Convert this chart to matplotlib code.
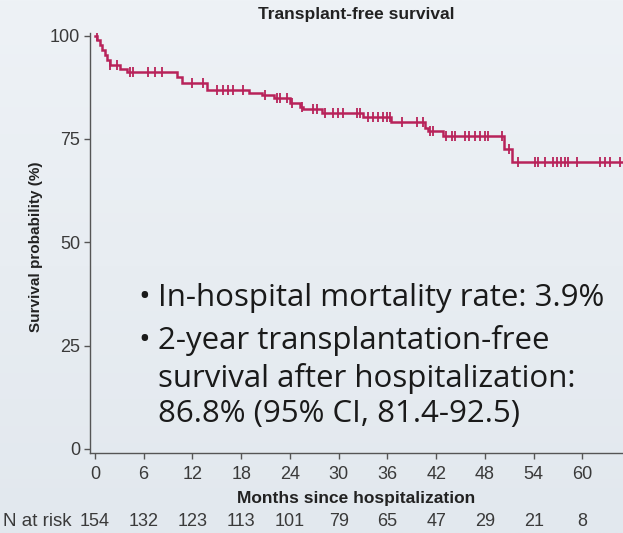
import numpy as np
import matplotlib
matplotlib.use("Agg")
import matplotlib.pyplot as plt
from matplotlib.colors import LinearSegmentedColormap

# Kaplan-Meier steps: time (months) and survival (%) after each event
event_months = [0, 0.3, 0.6, 0.9, 1.2, 1.5, 1.8, 3.1, 3.9, 10.1, 10.7, 13.8,
                19.0, 20.6, 22.1, 24.0, 25.2, 25.6, 28.0, 33.0, 36.5, 40.6,
                41.0, 42.8, 50.4, 51.3]
survival_pct = [100, 98.8, 97.6, 96.4, 95.2, 94.0, 92.8, 92.0, 91.1, 89.9,
                88.6, 86.9, 86.0, 85.6, 84.8, 83.7, 82.7, 82.2, 81.3, 80.3,
                79.2, 77.6, 76.8, 75.8, 72.6, 69.4]
end_month = 65.0

# censoring marks (months)
censor_months = [0.2, 1.9, 2.7, 4.3, 4.7, 6.5, 7.4, 8.2, 12.0, 13.3, 15.0,
                 15.8, 16.4, 17.0, 18.2, 20.9, 22.4, 22.8, 23.6, 24.2, 25.5,
                 26.8, 27.3, 28.3, 29.3, 29.9, 30.5, 32.2, 32.6, 33.6, 34.2,
                 34.8, 35.4, 36.0, 36.3, 37.8, 39.7, 40.4, 41.2, 41.6, 43.2,
                 43.9, 44.3, 45.5, 46.1, 46.8, 47.4, 48.0, 48.4, 50.1, 51.0,
                 52.1, 54.2, 54.5, 55.4, 56.4, 56.9, 57.4, 57.8, 58.2, 59.3,
                 62.2, 62.8, 63.4, 64.6]

x_ticks = [0, 6, 12, 18, 24, 30, 36, 42, 48, 54, 60]
n_at_risk = [154, 132, 123, 113, 101, 79, 65, 47, 29, 21, 8]
y_ticks = [0, 25, 50, 75, 100]

bullet_1 = ["In-hospital mortality rate: 3.9%"]
bullet_2 = ["2-year transplantation-free",
            "survival after hospitalization:",
            "86.8% (95% CI, 81.4-92.5)"]

red = "#b8235a"
grey = "#3a3a3a"
H = 533.0

fig = plt.figure(figsize=(6.23, 5.33), dpi=100)

# soft background gradient
bg = fig.add_axes([0, 0, 1, 1], zorder=-10)
cmap = LinearSegmentedColormap.from_list("bg", ["#eef2f6", "#e2e8ee"])
bg.imshow(np.linspace(0, 1, 256).reshape(-1, 1), aspect="auto", cmap=cmap,
          extent=[0, 1, 0, 1])
bg.axis("off")

ax = fig.add_axes([0.1445, 0.150, 0.8555, 0.788])
ax.patch.set_alpha(0)

xs = list(event_months) + [end_month]
ys = list(survival_pct) + [survival_pct[-1]]
ax.step(xs, ys, where="post", color=red, lw=1.8, solid_joinstyle="miter")

idx = np.searchsorted(event_months, censor_months, side="right") - 1
cy = np.array(survival_pct)[idx]
ax.plot(censor_months, cy, ls="none", marker="|", ms=7.5, mew=1.3, color=red)

ax.set_xlim(-0.6, end_month)
ax.set_ylim(-1, 100.6)
ax.set_xticks(x_ticks)
ax.set_yticks(y_ticks)
for s in ["top", "right"]:
    ax.spines[s].set_visible(False)
for s in ["left", "bottom"]:
    ax.spines[s].set_color("#555555")
    ax.spines[s].set_linewidth(1.0)
ax.tick_params(axis="both", colors="#555555", labelcolor=grey,
               labelsize=13, length=4, width=1.0)
ax.tick_params(axis="x", pad=5)
ax.tick_params(axis="y", pad=3)
for lab in ax.get_xticklabels() + ax.get_yticklabels():
    lab.set_family("Liberation Sans")

ax.set_xlabel("Months since hospitalization", fontsize=12.5, fontweight="bold",
              family="Liberation Sans", color="#222222", labelpad=6)
ax.set_ylabel("Survival probability (%)", fontsize=11, fontweight="bold",
              family="Liberation Sans", color="#222222")
ax.yaxis.set_label_coords(-0.088, 0.49)
ax.set_title("Transplant-free survival", fontsize=12.5, fontweight="bold",
             family="Liberation Sans", color="#222222", pad=10)

# numbers at risk under each tick
for t, n in zip(x_ticks, n_at_risk):
    ax.annotate(str(n), xy=(t, 0), xycoords=("data", "figure fraction"),
                xytext=(0, H - 522), textcoords=("offset points", "figure pixels"),
                ha="center", va="center", fontsize=13, color=grey,
                family="Liberation Sans")
fig.text(3 / 623, 1 - 522 / H, "N at risk", ha="left", va="center",
         fontsize=13.5, color=grey, family="Liberation Sans")

# bullet text box
bullet_font = dict(fontsize=22.5, family="Open Sans", color="#1a1a1a")
for lines, ys0 in [(bullet_1, [298]), (bullet_2, [341, 378, 414])]:
    fig.text(138 / 623, 1 - ys0[0] / H, "\u2022", ha="left", va="center",
             **bullet_font)
    for txt, y0 in zip(lines, ys0):
        fig.text(158 / 623, 1 - y0 / H, txt, ha="left", va="center",
                 **bullet_font)

fig.savefig("out.png", dpi=100)
